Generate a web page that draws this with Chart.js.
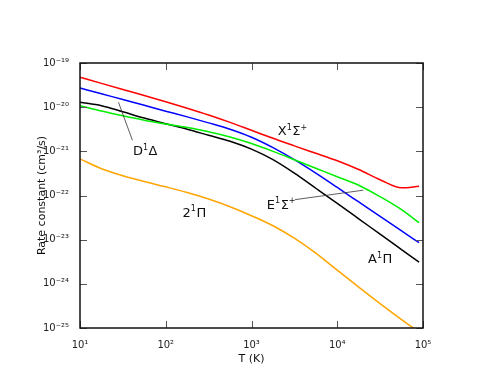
<!DOCTYPE html>
<html>
<head>
<meta charset="utf-8">
<script src="https://cdn.jsdelivr.net/npm/chart.js@4.4.0/dist/chart.umd.min.js"></script>
<style>
  html, body { margin: 0; padding: 0; background: #fff; }
  #wrap { width: 491px; height: 379px; }
</style>
</head>
<body>
<div id="wrap"><canvas id="rateChart" width="491" height="379"></canvas></div>
<script>
// --- DATA ---
const temps = [10, 17.8, 31.6, 56.2, 100, 178, 316, 562, 1000, 1780, 3160, 5620,
               1e4, 17800, 31600, 56200, 90000];

const rateX1Sigma = [4.75e-20, 3.46e-20, 2.52e-20, 1.83e-20, 1.33e-20, 9.49e-21, 6.66e-21, 4.53e-21,
                     2.99e-21, 1.97e-21, 1.33e-21, 9.01e-22, 6.10e-22, 3.87e-22, 2.28e-22, 1.49e-22, 1.61e-22];
const rateD1Delta = [2.72e-20, 2.01e-20, 1.49e-20, 1.10e-20, 8.12e-21, 6.03e-21, 4.41e-21, 3.16e-21,
                     2.08e-21, 1.21e-21, 6.46e-22, 3.20e-22, 1.52e-22, 7.13e-23, 3.35e-23, 1.58e-23, 8.55e-24];
const rateE1Sigma = [1.08e-20, 8.16e-21, 6.36e-21, 5.05e-21, 4.15e-21, 3.46e-21, 2.78e-21, 2.11e-21,
                     1.50e-21, 1.00e-21, 6.46e-22, 4.15e-22, 2.66e-22, 1.71e-22, 9.40e-23, 4.77e-23, 2.42e-23];
const rateA1Pi    = [1.29e-20, 1.08e-20, 7.87e-21, 5.67e-21, 4.21e-21, 3.16e-21, 2.31e-21, 1.69e-21,
                     1.12e-21, 6.46e-22, 3.20e-22, 1.46e-22, 6.63e-23, 2.97e-23, 1.33e-23, 5.97e-24, 3.10e-24];
const rate21Pi    = [6.73e-22, 4.04e-22, 2.81e-22, 2.07e-22, 1.57e-22, 1.17e-22, 8.33e-23, 5.58e-23,
                     3.49e-23, 2.07e-23, 1.08e-23, 4.95e-24, 2.04e-24, 8.42e-25, 3.56e-25, 1.55e-25, 8.08e-26];

const xTicks = [10, 100, 1000, 1e4, 1e5];
const yTicks = [1e-25, 1e-24, 1e-23, 1e-22, 1e-21, 1e-20, 1e-19];

// state labels, placed in data coordinates (T, k); [text, isSuperscript]
const stateLabels = [
  { parts: [['X', 0], ['1', 1], ['\u03A3', 0], ['+', 1]], t: 2030, k: 2.31e-21 },
  { parts: [['D', 0], ['1', 1], ['\u0394', 0]], t: 41.5, k: 8.17e-22 },
  { parts: [['E', 0], ['1', 1], ['\u03A3', 0], ['+', 1]], t: 1510, k: 5.02e-23 },
  { parts: [['A', 0], ['1', 1], ['\u03A0', 0]], t: 22900, k: 2.94e-24 },
  { parts: [['2', 0], ['1', 1], ['\u03A0', 0]], t: 157, k: 3.31e-23 }
];
// pointer lines from label to curve
const pointers = [
  { t0: 28.1, k0: 1.29e-20, t1: 40.9, k1: 1.77e-21 },
  { t0: 3206, k0: 8.04e-23, t1: 20140, k1: 1.32e-22 }
];

// --- HELPERS ---
const SUP = { '0': '\u2070', '1': '\u00B9', '2': '\u00B2', '3': '\u00B3', '4': '\u2074',
              '5': '\u2075', '6': '\u2076', '7': '\u2077', '8': '\u2078', '9': '\u2079', '-': '\u207B' };
function powLabel(v) {
  const e = Math.round(Math.log10(v)).toString();
  return '10' + e.split('').map(c => SUP[c]).join('');
}

function drawSup(ctx, parts, x, y, size) {
  let cx = x;
  for (const [txt, sup] of parts) {
    const fs = sup ? Math.round(size * 0.62) : size;
    ctx.font = fs + 'px "DejaVu Sans"';
    ctx.fillText(txt, cx, sup ? y - size * 0.42 : y);
    cx += ctx.measureText(txt).width + (sup ? 0.5 : 0);
  }
}

// inward ticks, frame and state labels
const framePlugin = {
  id: 'frame',
  afterDatasetsDraw(chart) {
    const { ctx, chartArea: a, scales: { x, y } } = chart;
    ctx.save();
    ctx.strokeStyle = '#555';
    ctx.lineWidth = 1;
    const len = 7;
    xTicks.forEach(v => {
      const px = Math.round(x.getPixelForValue(v)) + 0.5;
      ctx.beginPath();
      ctx.moveTo(px, a.bottom); ctx.lineTo(px, a.bottom - len);
      ctx.moveTo(px, a.top); ctx.lineTo(px, a.top + len);
      ctx.stroke();
    });
    yTicks.forEach(v => {
      const py = Math.round(y.getPixelForValue(v)) + 0.5;
      ctx.beginPath();
      ctx.moveTo(a.left, py); ctx.lineTo(a.left + len, py);
      ctx.moveTo(a.right, py); ctx.lineTo(a.right - len, py);
      ctx.stroke();
    });

    ctx.strokeStyle = '#111';
    ctx.lineWidth = 1.5;
    ctx.strokeRect(a.left, a.top, a.right - a.left, a.bottom - a.top);

    ctx.strokeStyle = '#333';
    ctx.lineWidth = 0.8;
    pointers.forEach(p => {
      ctx.beginPath();
      ctx.moveTo(x.getPixelForValue(p.t0), y.getPixelForValue(p.k0));
      ctx.lineTo(x.getPixelForValue(p.t1), y.getPixelForValue(p.k1));
      ctx.stroke();
    });

    ctx.fillStyle = '#111';
    ctx.textBaseline = 'alphabetic';
    ctx.textAlign = 'left';
    stateLabels.forEach(l => {
      drawSup(ctx, l.parts, x.getPixelForValue(l.t), y.getPixelForValue(l.k), 13);
    });
    ctx.restore();
  }
};

function series(data, color) {
  return {
    data: data.map((k, i) => ({ x: temps[i], y: k })),
    borderColor: color,
    borderWidth: 1.5,
    pointRadius: 0,
    fill: false,
    cubicInterpolationMode: 'monotone'
  };
}

const tickFont = { family: 'DejaVu Sans', size: 10 };
const titleFont = { family: 'DejaVu Sans', size: 11 };

new Chart(document.getElementById('rateChart'), {
  type: 'line',
  data: {
    datasets: [
      series(rateX1Sigma, '#ff0000'),
      series(rateE1Sigma, '#00ee00'),
      series(rateD1Delta, '#0000ff'),
      series(rateA1Pi, '#000000'),
      series(rate21Pi, '#ffa500')
    ]
  },
  options: {
    responsive: false,
    devicePixelRatio: 1,
    animation: false,
    layout: { padding: { left: 32, top: 63, right: 68, bottom: 9 } },
    plugins: { legend: { display: false }, tooltip: { enabled: false } },
    scales: {
      x: {
        type: 'logarithmic',
        min: 10,
        max: 1e5,
        afterBuildTicks: s => { s.ticks = xTicks.map(v => ({ value: v })); },
        afterFit: s => { s.height = 42; },
        grid: { display: false },
        border: { display: false },
        ticks: { callback: v => powLabel(v), font: tickFont, color: '#222', padding: 3, maxRotation: 0, autoSkip: false },
        title: { display: true, text: 'T (K)', font: titleFont, color: '#111', padding: { top: 4, bottom: 4 } }
      },
      y: {
        type: 'logarithmic',
        min: 1e-25,
        max: 1e-19,
        afterBuildTicks: s => { s.ticks = yTicks.map(v => ({ value: v })); },
        afterFit: s => { s.width = 48; },
        grid: { display: false },
        border: { display: false },
        ticks: { callback: v => powLabel(v), font: tickFont, color: '#222', padding: 3, autoSkip: false },
        title: { display: true, text: 'Rate constant (cm\u00B3/s)', font: titleFont, color: '#111', padding: { top: 4, bottom: 4 } }
      }
    }
  },
  plugins: [framePlugin]
});
</script>
</body>
</html>
